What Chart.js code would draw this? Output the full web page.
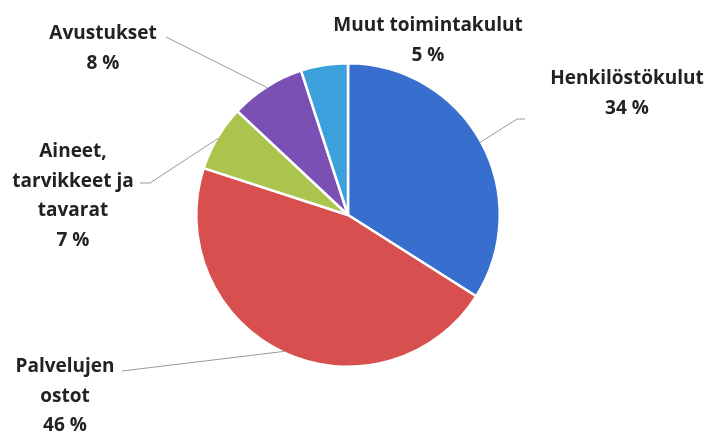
<!DOCTYPE html>
<html>
<head>
<meta charset="utf-8">
<script src="https://cdn.jsdelivr.net/npm/chart.js@4.4.0/dist/chart.umd.min.js"></script>
<style>
  html, body { margin: 0; padding: 0; background: #fff; }
  #wrap { width: 711px; height: 433px; }
</style>
</head>
<body>
<div id="wrap"><canvas id="pie" width="711" height="433"></canvas></div>
<script>
// data
const categories = ['Henkilöstökulut', 'Palvelujen ostot', 'Aineet, tarvikkeet ja tavarat', 'Avustukset', 'Muut toimintakulut'];
const shares = [34, 46, 7, 8, 5];
const sliceColors = ['#386ecd', '#d7504f', '#abc44e', '#7a50b4', '#3ca0dc'];

// label text lines + where they sit (layout only)
const labelLines = [
  ['Henkilöstökulut', '34 %'],
  ['Palvelujen', 'ostot', '46 %'],
  ['Aineet,', 'tarvikkeet ja', 'tavarat', '7 %'],
  ['Avustukset', '8 %'],
  ['Muut toimintakulut', '5 %']
];
const labelPos = [
  {x: 627, y: 79},
  {x: 65, y: 367},
  {x: 73, y: 152},
  {x: 103, y: 34},
  {x: 428, y: 26}
];
// outer end of each leader line (null = no line)
const leaderEnd = [
  [{x: 517, y: 119}, {x: 525, y: 119}],
  [{x: 122, y: 371}],
  [{x: 150, y: 183}, {x: 140, y: 183}],
  [{x: 166, y: 37}],
  null
];

const pieLabels = {
  id: 'pieLabels',
  afterDraw(chart) {
    const ctx = chart.ctx;
    const meta = chart.getDatasetMeta(0);
    ctx.save();
    // leader lines
    ctx.strokeStyle = '#9a9a9a';
    ctx.lineWidth = 1;
    meta.data.forEach((arc, i) => {
      if (!leaderEnd[i]) return;
      const mid = (arc.startAngle + arc.endAngle) / 2;
      const r = arc.outerRadius - 1;
      ctx.beginPath();
      ctx.moveTo(arc.x + Math.cos(mid) * r, arc.y + Math.sin(mid) * r);
      leaderEnd[i].forEach(p => ctx.lineTo(p.x, p.y));
      ctx.stroke();
    });
    // text
    ctx.fillStyle = '#222';
    ctx.font = 'bold 19px "Open Sans", sans-serif';
    ctx.textAlign = 'center';
    ctx.textBaseline = 'middle';
    labelLines.forEach((lines, i) => {
      lines.forEach((t, k) => {
        ctx.fillText(t, labelPos[i].x, labelPos[i].y + k * 29.5);
      });
    });
    ctx.restore();
  }
};

new Chart(document.getElementById('pie').getContext('2d'), {
  type: 'pie',
  data: {
    labels: categories,
    datasets: [{
      data: shares,
      backgroundColor: sliceColors,
      borderColor: '#ffffff',
      borderWidth: 2.5
    }]
  },
  options: {
    responsive: false,
    animation: false,
    layout: { padding: { left: 195, right: 210, top: 62, bottom: 65 } },
    plugins: {
      legend: { display: false },
      tooltip: { enabled: false }
    }
  },
  plugins: [pieLabels]
});
</script>
</body>
</html>
